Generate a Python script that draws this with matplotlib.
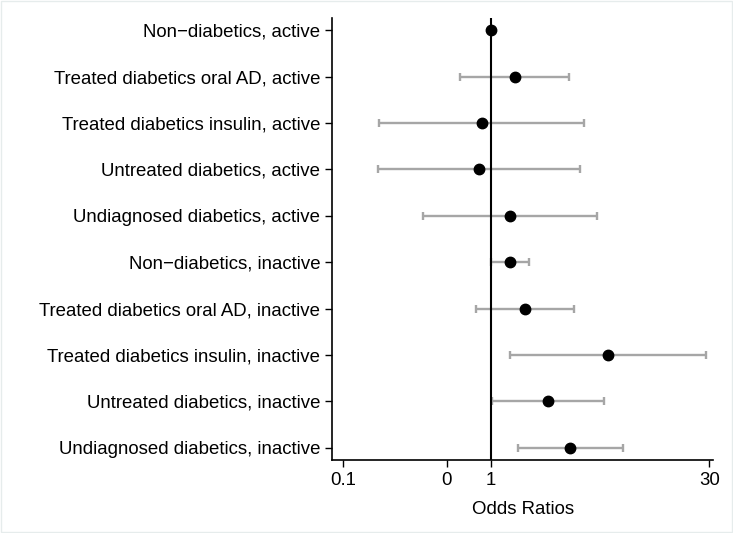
import matplotlib.pyplot as plt
import numpy as np

plt.rcParams['font.family'] = ['Liberation Sans', 'DejaVu Sans']

# categorias e valores (odds ratios e IC 95%)
grupos = ['Non\u2212diabetics, active',
          'Treated diabetics oral AD, active',
          'Treated diabetics insulin, active',
          'Untreated diabetics, active',
          'Undiagnosed diabetics, active',
          'Non\u2212diabetics, inactive',
          'Treated diabetics oral AD, inactive',
          'Treated diabetics insulin, inactive',
          'Untreated diabetics, inactive',
          'Undiagnosed diabetics, inactive']
odds = [1.0, 1.44, 0.865, 0.83, 1.345, 1.35, 1.69, 6.2, 2.43, 3.43]
ic_inf = [1.0, 0.617, 0.175, 0.172, 0.345, 1.005, 0.791, 1.35, 1.02, 1.53]
ic_sup = [1.0, 3.37, 4.26, 4.02, 5.22, 1.81, 3.61, 28.4, 5.76, 7.79]

xticks = [0.1, 0.5, 1, 30]
xtick_labels = ['0.1', '0', '1', '30']

fig = plt.figure(figsize=(7.33, 5.33), dpi=100)
ax = fig.add_axes([0.453, 0.137, 0.52, 0.829])

y = np.arange(1, len(grupos) + 1)
odds = np.array(odds)
erro = np.array([odds - np.array(ic_inf), np.array(ic_sup) - odds])

# IC (sem a referencia)
ax.errorbar(odds[1:], y[1:], xerr=erro[:, 1:], fmt='none', ecolor='#a6a6a6',
            elinewidth=1.7, capsize=3, capthick=1.7, zorder=2)
ax.axvline(1, color='black', linewidth=1.5, zorder=3)
ax.plot(odds, y, 'o', color='black', markersize=7.5, zorder=4)

ax.set_xscale('log')
ax.set_xlim(0.0839, 31.8)
ax.set_ylim(10.26, 0.74)
ax.set_xticks(xticks)
ax.set_xticklabels(xtick_labels)
ax.xaxis.set_minor_locator(plt.NullLocator())
ax.set_yticks(y)
ax.set_yticklabels(grupos)
ax.tick_params(axis='both', labelsize=13.4, length=5, width=1, direction='out')
ax.set_xlabel('Odds Ratios', fontsize=13.4, labelpad=9)

ax.spines['top'].set_visible(False)
ax.spines['right'].set_visible(False)
ax.spines['left'].set_linewidth(1.2)
ax.spines['bottom'].set_linewidth(1.2)

fig.patches.append(plt.Rectangle((0.001, 0.001), 0.998, 0.998, transform=fig.transFigure,
                                 fill=False, edgecolor='#e6ecec', linewidth=1))

fig.savefig('out.png', dpi=100)
